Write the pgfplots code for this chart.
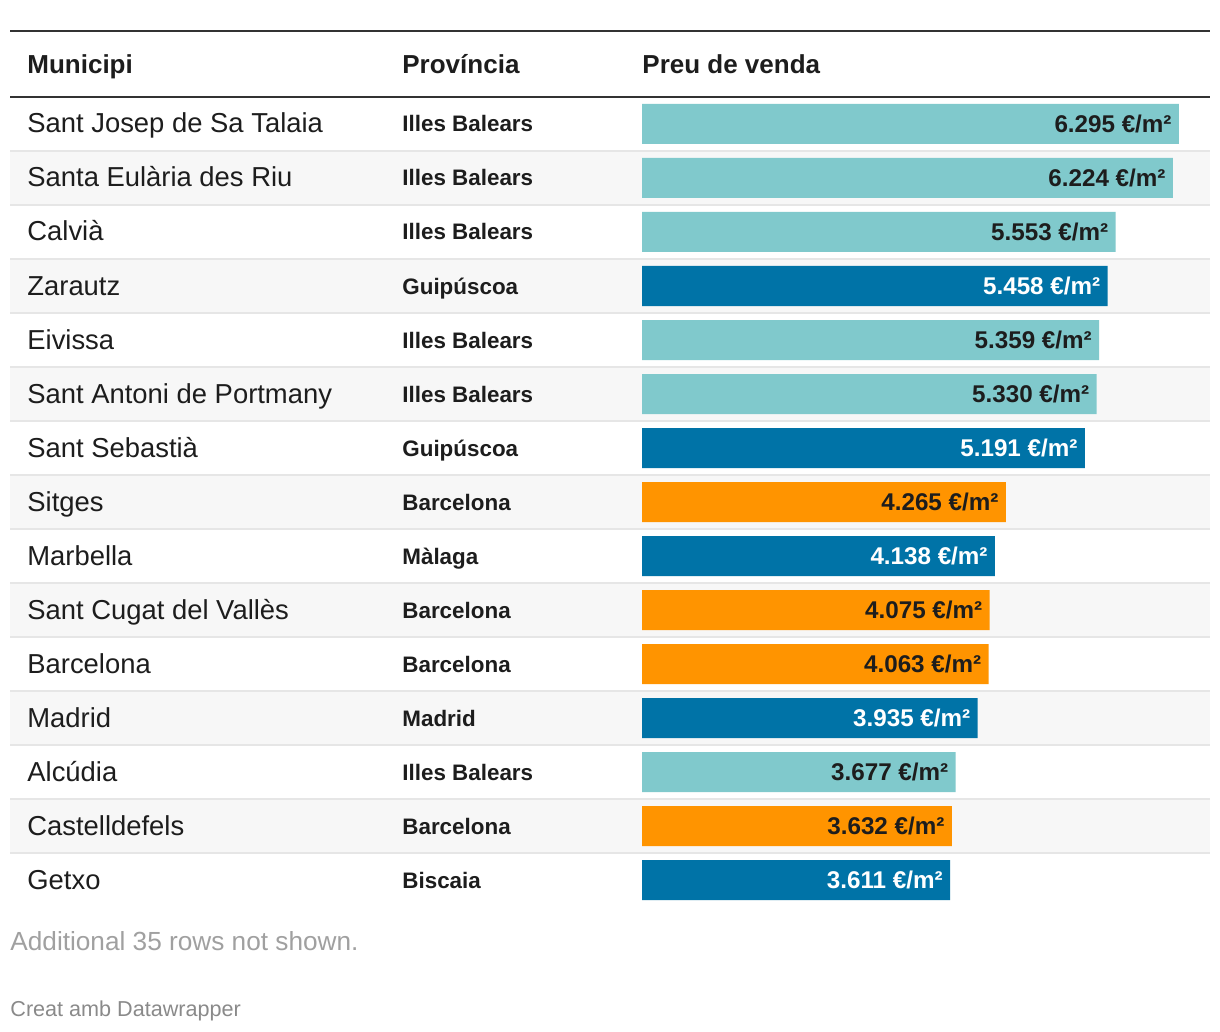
\documentclass[border=0pt]{standalone}
\usepackage{pgfplots}
\pgfplotsset{compat=1.18}
\usepackage{fontspec}
\setmainfont{Liberation Sans}
\definecolor{cteal}{HTML}{80C9CC}
\definecolor{cblue}{HTML}{0073A7}
\definecolor{corange}{HTML}{FF9400}
\definecolor{ctext}{HTML}{1D1D1D}
\definecolor{crowbg}{HTML}{F7F7F7}
\definecolor{csep}{HTML}{E6E6E6}
\definecolor{cdark}{HTML}{333333}
\definecolor{cnote}{HTML}{A0A0A0}
\definecolor{ccredit}{HTML}{8A8A8A}
\newcommand{\rowfont}{\fontsize{13.7}{16}\selectfont}
\newcommand{\provfont}{\fontsize{11.2}{13}\selectfont\bfseries}
\newcommand{\headfont}{\fontsize{13}{15}\selectfont\bfseries}
\begin{document}
\begin{tikzpicture}
\begin{axis}[
  scale only axis, width=610pt, height=516pt,
  xmin=-7526.4, xmax=6776.1, ymin=0, ymax=1032, y dir=reverse,
  hide axis, clip=false,
  xbar, bar width=20pt, bar shift=0pt,
  point meta=explicit symbolic,
  nodes near coords,
  every node near coord/.append style={anchor=east, xshift=-3.5pt, inner sep=0pt,
    font=\fontsize{12.1}{14}\selectfont\bfseries, text height=8.7pt, text depth=0pt},
]
% background
\fill[white] (-7526.4,0) rectangle (6776.1,1032);
\fill[crowbg] (-7409.1,152) rectangle (6658.9,204);
\fill[crowbg] (-7409.1,260) rectangle (6658.9,312);
\fill[crowbg] (-7409.1,368) rectangle (6658.9,420);
\fill[crowbg] (-7409.1,476) rectangle (6658.9,528);
\fill[crowbg] (-7409.1,584) rectangle (6658.9,636);
\fill[crowbg] (-7409.1,692) rectangle (6658.9,744);
\fill[crowbg] (-7409.1,800) rectangle (6658.9,852);
% separators
\draw[csep, line width=1pt] (-7409.1,151) -- (6658.9,151);
\draw[csep, line width=1pt] (-7409.1,205) -- (6658.9,205);
\draw[csep, line width=1pt] (-7409.1,259) -- (6658.9,259);
\draw[csep, line width=1pt] (-7409.1,313) -- (6658.9,313);
\draw[csep, line width=1pt] (-7409.1,367) -- (6658.9,367);
\draw[csep, line width=1pt] (-7409.1,421) -- (6658.9,421);
\draw[csep, line width=1pt] (-7409.1,475) -- (6658.9,475);
\draw[csep, line width=1pt] (-7409.1,529) -- (6658.9,529);
\draw[csep, line width=1pt] (-7409.1,583) -- (6658.9,583);
\draw[csep, line width=1pt] (-7409.1,637) -- (6658.9,637);
\draw[csep, line width=1pt] (-7409.1,691) -- (6658.9,691);
\draw[csep, line width=1pt] (-7409.1,745) -- (6658.9,745);
\draw[csep, line width=1pt] (-7409.1,799) -- (6658.9,799);
\draw[csep, line width=1pt] (-7409.1,853) -- (6658.9,853);
\draw[cdark, line width=1pt] (-7409.1,31) -- (6658.9,31);
\draw[cdark, line width=1pt] (-7409.1,97) -- (6658.9,97);
% header
\node[anchor=base west, inner sep=0pt, text=ctext, font=\headfont] at (-7209.8,74) {Municipi};
\node[anchor=base west, inner sep=0pt, text=ctext, font=\headfont] at (-2813.6,74) {Província};
\node[anchor=base west, inner sep=0pt, text=ctext, font=\headfont] at (0,74) {Preu de venda};
% bars
\addplot[fill=cteal, draw=none, every node near coord/.append style={text=ctext}] coordinates {
  (6295,124) [6.295 €/m²]
  (6224,178) [6.224 €/m²]
  (5553,232) [5.553 €/m²]
  (5359,340) [5.359 €/m²]
  (5330,394) [5.330 €/m²]
  (3677,772) [3.677 €/m²]
};
\addplot[fill=cblue, draw=none, every node near coord/.append style={text=white}] coordinates {
  (5458,286) [5.458 €/m²]
  (5191,448) [5.191 €/m²]
  (4138,556) [4.138 €/m²]
  (3935,718) [3.935 €/m²]
  (3611,880) [3.611 €/m²]
};
\addplot[fill=corange, draw=none, every node near coord/.append style={text=ctext}] coordinates {
  (4265,502) [4.265 €/m²]
  (4075,610) [4.075 €/m²]
  (4063,664) [4.063 €/m²]
  (3632,826) [3.632 €/m²]
};
% municipality column
\node[anchor=base west, inner sep=0pt, text=ctext, font=\rowfont] at (-7209.8,133) {Sant Josep de Sa Talaia};
\node[anchor=base west, inner sep=0pt, text=ctext, font=\rowfont] at (-7209.8,187) {Santa Eulària des Riu};
\node[anchor=base west, inner sep=0pt, text=ctext, font=\rowfont] at (-7209.8,241) {Calvià};
\node[anchor=base west, inner sep=0pt, text=ctext, font=\rowfont] at (-7209.8,295) {Zarautz};
\node[anchor=base west, inner sep=0pt, text=ctext, font=\rowfont] at (-7209.8,349) {Eivissa};
\node[anchor=base west, inner sep=0pt, text=ctext, font=\rowfont] at (-7209.8,403) {Sant Antoni de Portmany};
\node[anchor=base west, inner sep=0pt, text=ctext, font=\rowfont] at (-7209.8,457) {Sant Sebastià};
\node[anchor=base west, inner sep=0pt, text=ctext, font=\rowfont] at (-7209.8,511) {Sitges};
\node[anchor=base west, inner sep=0pt, text=ctext, font=\rowfont] at (-7209.8,565) {Marbella};
\node[anchor=base west, inner sep=0pt, text=ctext, font=\rowfont] at (-7209.8,619) {Sant Cugat del Vallès};
\node[anchor=base west, inner sep=0pt, text=ctext, font=\rowfont] at (-7209.8,673) {Barcelona};
\node[anchor=base west, inner sep=0pt, text=ctext, font=\rowfont] at (-7209.8,727) {Madrid};
\node[anchor=base west, inner sep=0pt, text=ctext, font=\rowfont] at (-7209.8,781) {Alcúdia};
\node[anchor=base west, inner sep=0pt, text=ctext, font=\rowfont] at (-7209.8,835) {Castelldefels};
\node[anchor=base west, inner sep=0pt, text=ctext, font=\rowfont] at (-7209.8,889) {Getxo};
% province column
\node[anchor=base west, inner sep=0pt, text=ctext, font=\provfont] at (-2813.6,132) {Illes Balears};
\node[anchor=base west, inner sep=0pt, text=ctext, font=\provfont] at (-2813.6,186) {Illes Balears};
\node[anchor=base west, inner sep=0pt, text=ctext, font=\provfont] at (-2813.6,240) {Illes Balears};
\node[anchor=base west, inner sep=0pt, text=ctext, font=\provfont] at (-2813.6,294) {Guipúscoa};
\node[anchor=base west, inner sep=0pt, text=ctext, font=\provfont] at (-2813.6,348) {Illes Balears};
\node[anchor=base west, inner sep=0pt, text=ctext, font=\provfont] at (-2813.6,402) {Illes Balears};
\node[anchor=base west, inner sep=0pt, text=ctext, font=\provfont] at (-2813.6,456) {Guipúscoa};
\node[anchor=base west, inner sep=0pt, text=ctext, font=\provfont] at (-2813.6,510) {Barcelona};
\node[anchor=base west, inner sep=0pt, text=ctext, font=\provfont] at (-2813.6,564) {Màlaga};
\node[anchor=base west, inner sep=0pt, text=ctext, font=\provfont] at (-2813.6,618) {Barcelona};
\node[anchor=base west, inner sep=0pt, text=ctext, font=\provfont] at (-2813.6,672) {Barcelona};
\node[anchor=base west, inner sep=0pt, text=ctext, font=\provfont] at (-2813.6,726) {Madrid};
\node[anchor=base west, inner sep=0pt, text=ctext, font=\provfont] at (-2813.6,780) {Illes Balears};
\node[anchor=base west, inner sep=0pt, text=ctext, font=\provfont] at (-2813.6,834) {Barcelona};
\node[anchor=base west, inner sep=0pt, text=ctext, font=\provfont] at (-2813.6,888) {Biscaia};
% footer
\node[anchor=base west, inner sep=0pt, text=cnote, font=\fontsize{13.1}{15}\selectfont] at (-7409.1,950) {Additional 35 rows not shown.};
\node[anchor=base west, inner sep=0pt, text=ccredit, font=\fontsize{10.8}{13}\selectfont] at (-7409.1,1016) {Creat amb Datawrapper};
\end{axis}
\end{tikzpicture}
\end{document}
